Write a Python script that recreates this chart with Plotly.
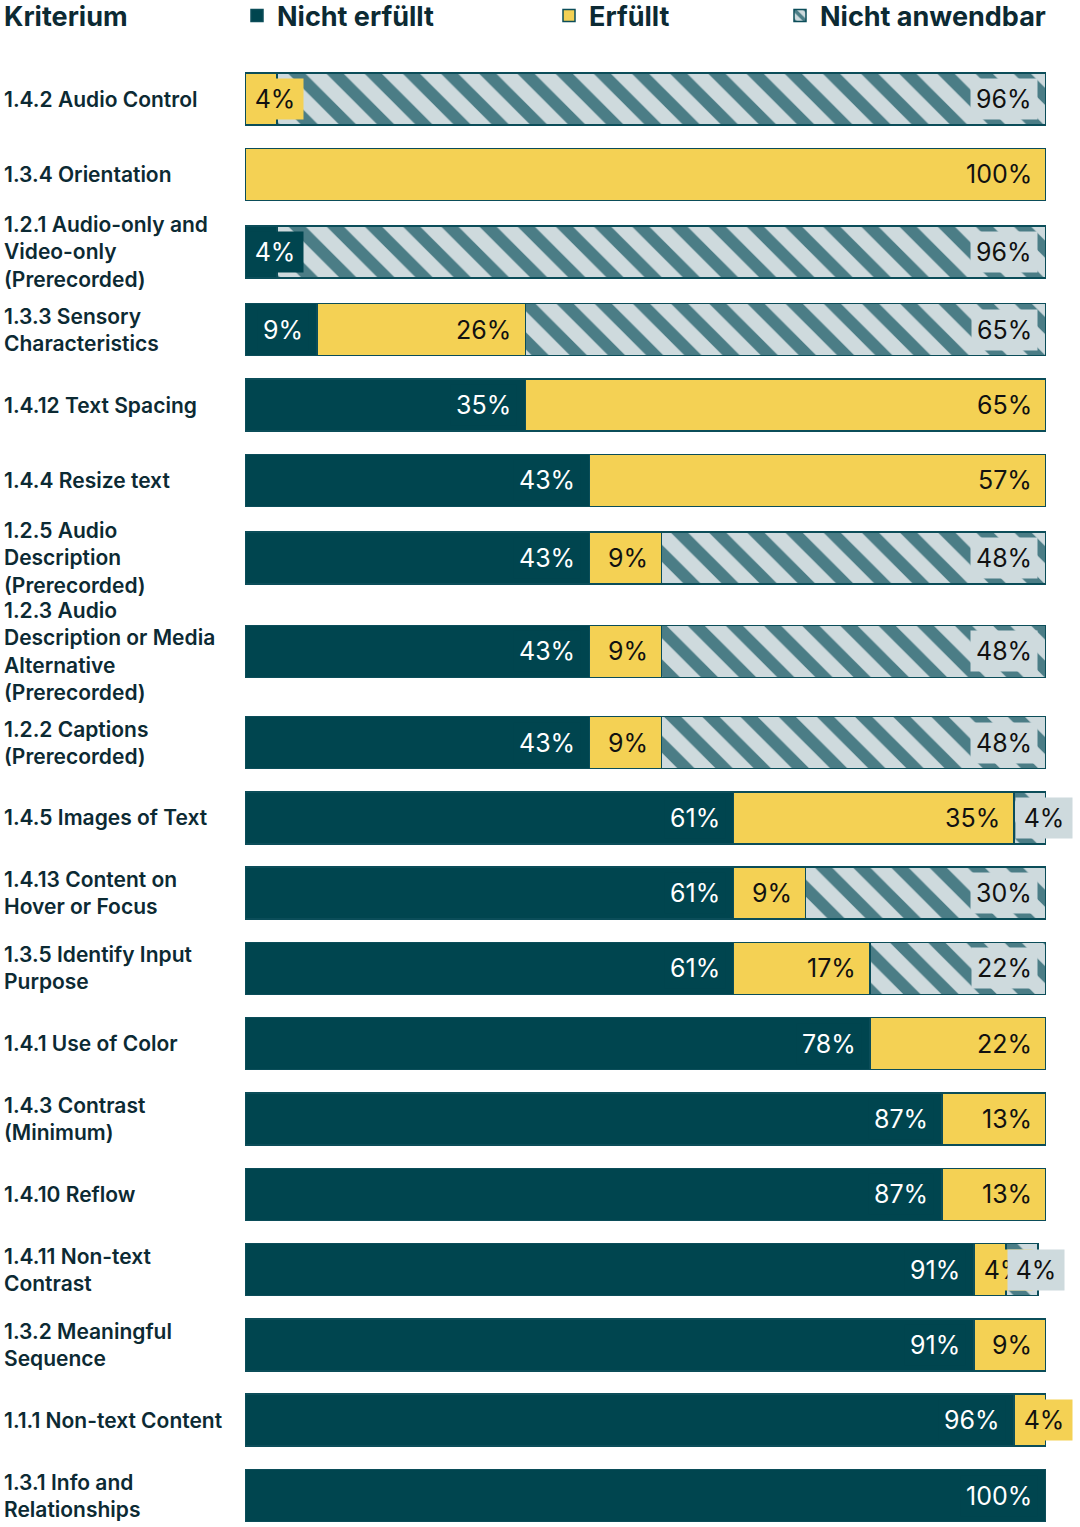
import plotly.graph_objects as go

# ---------------- data ----------------
criteria = [
    "1.4.2 Audio Control",
    "1.3.4 Orientation",
    "1.2.1 Audio-only and<br>Video-only<br>(Prerecorded)",
    "1.3.3 Sensory<br>Characteristics",
    "1.4.12 Text Spacing",
    "1.4.4 Resize text",
    "1.2.5 Audio<br>Description<br>(Prerecorded)",
    "1.2.3 Audio<br>Description or Media<br>Alternative<br>(Prerecorded)",
    "1.2.2 Captions<br>(Prerecorded)",
    "1.4.5 Images of Text",
    "1.4.13 Content on<br>Hover or Focus",
    "1.3.5 Identify Input<br>Purpose",
    "1.4.1 Use of Color",
    "1.4.3 Contrast<br>(Minimum)",
    "1.4.10 Reflow",
    "1.4.11 Non-text<br>Contrast",
    "1.3.2 Meaningful<br>Sequence",
    "1.1.1 Non-text Content",
    "1.3.1 Info and<br>Relationships",
]
nicht_erfuellt = [0, 0, 4, 9, 35, 43, 43, 43, 43, 61, 61, 61, 78, 87, 87, 91, 91, 96, 100]
erfuellt = [4, 100, 0, 26, 65, 57, 9, 9, 9, 35, 9, 17, 22, 13, 13, 4, 9, 4, 0]
nicht_anwendbar = [96, 0, 96, 65, 0, 0, 48, 48, 48, 4, 30, 22, 0, 0, 0, 4, 0, 0, 0]

series_names = ["Nicht erfüllt", "Erfüllt", "Nicht anwendbar"]
header = "Kriterium"

# ---------------- style ----------------
DARK = "#00454f"
YELLOW = "#f4d154"
HATCH_FG = "#4b7d86"
HATCH_BG = "#cedadd"
OUTLINE = "#0b4d59"
TEXT = "#0c2a33"
FONT = "Inter"

W, H = 1080, 1527
ML, MR, MT, MB = 245, 34, 60, 0
plot_w = W - ML - MR
plot_h = H - MT - MB

# row layout: each row is tall enough for its wrapped label (HTML-list-like flow)
ROW_MIN = 75.3
LINE_H = 26.7
row_h = [max(ROW_MIN, LINE_H * (c.count("<br>") + 1)) for c in criteria]
row_y = []
acc = 0.0
for h in row_h:
    row_y.append(acc + h / 2)
    acc += h
TOP_PAD = 39 - row_h[0] / 2   # space above first row inside plot area

fig = go.Figure()

series = [nicht_erfuellt, erfuellt, nicht_anwendbar]
markers = [
    dict(color=DARK, line=dict(color=OUTLINE, width=1.5)),
    dict(color=YELLOW, line=dict(color=OUTLINE, width=1.5)),
    dict(color=HATCH_BG, line=dict(color=OUTLINE, width=1.5),
         pattern=dict(shape="\\", fgcolor=HATCH_FG, bgcolor=HATCH_BG,
                      size=27, solidity=0.45, fillmode="replace")),
]
legend_ids = ["legend", "legend2", "legend3"]

for name, vals, mk, lg in zip(series_names, series, markers, legend_ids):
    fig.add_trace(go.Bar(
        y=row_y, x=vals, name=name, orientation="h",
        marker=mk, width=52, cliponaxis=False, legend=lg,
        hoverinfo="skip",
    ))

# value labels
label_bg = [DARK, YELLOW, HATCH_BG]
label_fg = ["#ffffff", "#111111", "#111111"]
annotations = []
for i, yy in enumerate(row_y):
    start = 0
    for s, vals in enumerate(series):
        v = vals[i]
        if v > 0:
            end = start + v
            if v <= 5:
                ann = dict(x=start, xanchor="left", xshift=1, width=46)
            else:
                ann = dict(x=end, xanchor="right", xshift=-8)
            ann.update(dict(
                y=yy, xref="x", yref="y", yanchor="middle",
                text=f"{v}%", showarrow=False,
                font=dict(family=FONT, size=25, color=label_fg[s]),
                bgcolor=label_bg[s], borderpad=5,
            ))
            annotations.append(ann)
        start += v

# category labels (left aligned)
for cat, yy in zip(criteria, row_y):
    annotations.append(dict(
        x=-(ML - 2) / plot_w, xref="paper", xanchor="left",
        y=yy, yref="y", yanchor="middle", align="left",
        text=cat, showarrow=False,
        font=dict(family=FONT, size=21, color=TEXT, weight=600),
    ))

# header
annotations.append(dict(
    x=-(ML - 2) / plot_w, xref="paper", xanchor="left",
    y=1 + (MT - 17) / plot_h, yref="paper", yanchor="middle",
    text=header, showarrow=False,
    font=dict(family=FONT, size=27, color=TEXT, weight=700),
))

leg_y = 1 + (MT - 16) / plot_h
leg_common = dict(y=leg_y, yanchor="middle", xanchor="left", orientation="h",
                  bgcolor="rgba(0,0,0,0)",
                  font=dict(family=FONT, size=27, color=TEXT, weight=700))
fig.update_layout(
    width=W, height=H,
    margin=dict(l=ML, r=MR, t=MT, b=MB, autoexpand=False),
    paper_bgcolor="white", plot_bgcolor="white",
    barmode="stack",
    showlegend=True,
    legend=dict(x=(237 - ML) / plot_w, **leg_common),
    legend2=dict(x=(549 - ML) / plot_w, **leg_common),
    legend3=dict(x=(780 - ML) / plot_w, **leg_common),
    xaxis=dict(range=[0, 100], visible=False, fixedrange=True),
    yaxis=dict(range=[plot_h - TOP_PAD, -TOP_PAD], visible=False, fixedrange=True),
    annotations=annotations,
)

fig.write_html("out.html")
